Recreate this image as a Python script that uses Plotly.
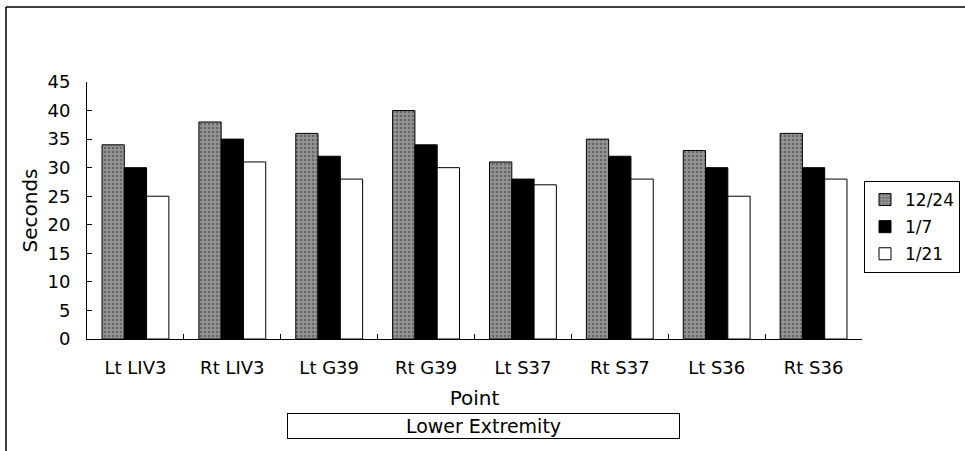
import plotly.graph_objects as go

categories = ["Lt LIV3", "Rt LIV3", "Lt G39", "Rt G39", "Lt S37", "Rt S37", "Lt S36", "Rt S36"]
series_names = ["12/24", "1/7", "1/21"]
v_1224 = [34, 38, 36, 40, 31, 35, 33, 36]
v_0107 = [30, 35, 32, 34, 28, 32, 30, 30]
v_0121 = [25, 31, 28, 30, 27, 28, 25, 28]
y_ticks = [0, 5, 10, 15, 20, 25, 30, 35, 40, 45]

FONT = "DejaVu Sans"
L, R, T, B = 87, 103, 82, 112
W, H = 965, 451
pw, ph = W - L - R, H - T - B

def px_x(x):
    return (x - L) / pw

def px_y(y):
    return (H - B - y) / ph

fig = go.Figure()
fig.add_trace(go.Bar(
    x=categories, y=v_1224, name=series_names[0], legendgroup="a",
    marker=dict(color="#8a8a8a", line=dict(color="black", width=1),
                pattern=dict(shape=".", fgcolor="#3c3c3c", bgcolor="#949494", size=4, solidity=0.35)),
))
fig.add_trace(go.Bar(
    x=categories, y=v_0107, name=series_names[1], legendgroup="b",
    marker=dict(color="black", line=dict(color="black", width=1)),
))
fig.add_trace(go.Bar(
    x=categories, y=v_0121, name=series_names[2], legendgroup="c",
    marker=dict(color="white", line=dict(color="black", width=1)),
))

fig.update_layout(
    width=W, height=H,
    margin=dict(l=L, r=R, t=T, b=B, autoexpand=False),
    paper_bgcolor="white", plot_bgcolor="white",
    barmode="group", bargap=0.31, bargroupgap=0,
    font=dict(family=FONT, color="black", size=18),
    showlegend=True,
    legend=dict(
        x=px_x(864), y=px_y(181), xanchor="left", yanchor="top",
        bordercolor="black", borderwidth=1, bgcolor="white",
        font=dict(family=FONT, size=17, color="black"),
        tracegroupgap=2, itemwidth=30,
    ),
    xaxis=dict(
        showline=True, linecolor="black", linewidth=1,
        ticks="inside", ticklen=5, tickcolor="black", tickson="boundaries",
        showgrid=False, tickfont=dict(family=FONT, size=18),
        ticklabelstandoff=12,
        title=dict(text="Point", font=dict(family=FONT, size=20), standoff=14),
        automargin=False,
    ),
    yaxis=dict(
        range=[0, 45], tickvals=y_ticks,
        showline=True, linecolor="black", linewidth=1,
        ticks="inside", ticklen=5, tickcolor="black",
        showgrid=False, zeroline=False, tickfont=dict(family=FONT, size=18),
        ticklabelstandoff=12,
        title=dict(text="Seconds", font=dict(family=FONT, size=20), standoff=4),
        automargin=False,
    ),
    shapes=[
        dict(type="line", xref="paper", yref="paper",
             x0=px_x(6), x1=px_x(965), y0=px_y(7), y1=px_y(7),
             line=dict(color="black", width=1.5)),
        dict(type="line", xref="paper", yref="paper",
             x0=px_x(6), x1=px_x(6), y0=px_y(7), y1=px_y(451),
             line=dict(color="black", width=1.5)),
    ],
    annotations=[
        dict(text="Lower Extremity", xref="paper", yref="paper",
             x=px_x(483.5), y=px_y(426), xanchor="center", yanchor="middle",
             showarrow=False, font=dict(family=FONT, size=19, color="black"),
             bordercolor="black", borderwidth=1, borderpad=1,
             width=389, height=22, bgcolor="white"),
    ],
)

fig.write_html("out.html")
